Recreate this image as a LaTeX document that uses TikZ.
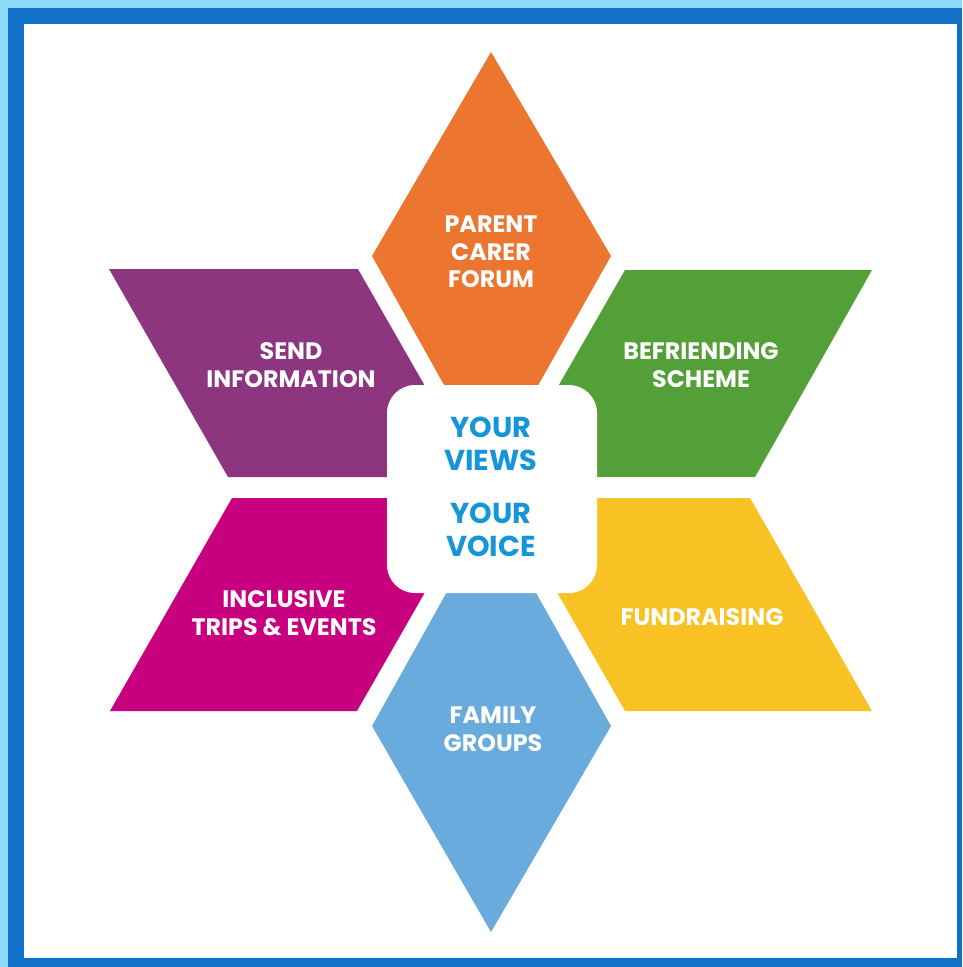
\documentclass[tikz,border=0pt]{standalone}
\usepackage{fontspec}
\setmainfont{Poppins}
\definecolor{lightframe}{RGB}{140,218,248}
\definecolor{darkframe}{RGB}{17,112,200}
\definecolor{cOrange}{RGB}{236,117,48}
\definecolor{cGreen}{RGB}{84,160,56}
\definecolor{cPurple}{RGB}{142,53,128}
\definecolor{cMagenta}{RGB}{200,0,127}
\definecolor{cYellow}{RGB}{248,193,36}
\definecolor{cBlue}{RGB}{106,171,221}
\definecolor{ctrblue}{RGB}{22,150,218}
\begin{document}
\begin{tikzpicture}[x=1pt,y=-1pt,
  lbl/.style={text=white,font=\bfseries\fontsize{23.8}{27.5}\selectfont,align=center,inner sep=0pt},
  ctr/.style={text=ctrblue,font=\bfseries\fontsize{28.8}{33}\selectfont,align=center,inner sep=0pt}]
\useasboundingbox (0,0) rectangle (962,967);
% frame
\fill[lightframe] (0,0) rectangle (962,967);
\fill[darkframe] (8,8) rectangle (962,967);
\fill[white] (24,24) rectangle (957,958);
% star pieces
\fill[cOrange] (491,52) -- (611,256) -- (491,469) -- (372,256) -- cycle;
\fill[cBlue] (491,932) -- (611,726) -- (491,513) -- (372,726) -- cycle;
\fill[cPurple] (109,269) -- (358,269) -- (477,477) -- (228,477) -- cycle;
\fill[cGreen] (625,270) -- (872,270) -- (755,477) -- (506,477) -- cycle;
\fill[cMagenta] (232,498) -- (479,498) -- (357,711) -- (110,711) -- cycle;
\fill[cYellow] (503,498) -- (750,498) -- (872,711) -- (625,711) -- cycle;
% centre box
\fill[white,rounded corners=28pt] (387,385) rectangle (597,593);
% labels
\node[lbl] (forum) at (491,252) {PARENT\\CARER\\FORUM};
\node[lbl] (send) at (291,365) {SEND\\INFORMATION};
\node[lbl] (befr) at (701,365) {BEFRIENDING\\SCHEME};
\node[lbl] (trips) at (284,613) {INCLUSIVE\\TRIPS \& EVENTS};
\node[lbl] (fund) at (702,617) {FUNDRAISING};
\node[lbl] (family) at (493,729) {FAMILY\\GROUPS};
\node[ctr] (views) at (491,444) {YOUR\\VIEWS};
\node[ctr] (voice) at (491,530) {YOUR\\VOICE};
\end{tikzpicture}
\end{document}
